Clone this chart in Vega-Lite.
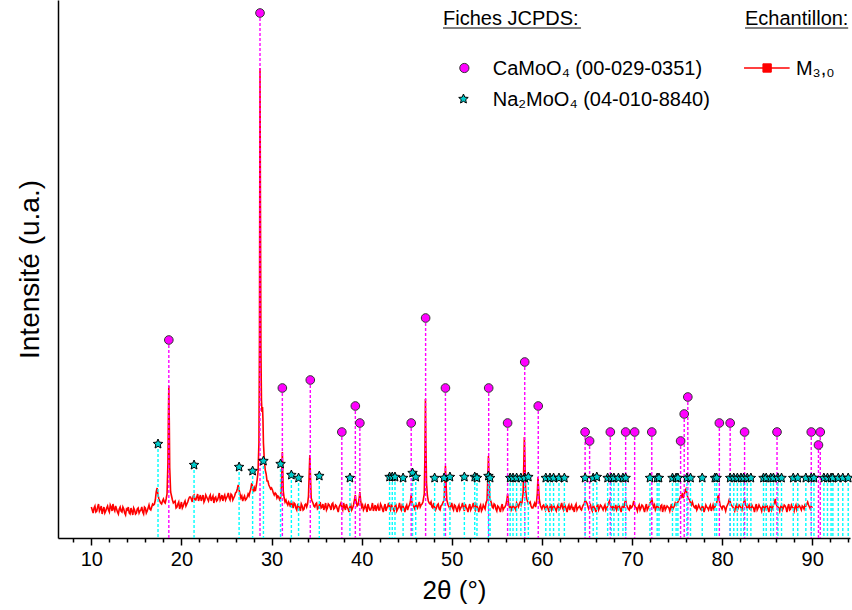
{
  "$schema": "https://vega.github.io/schema/vega-lite/v6.json",
  "autosize": "none",
  "width": 792,
  "height": 538,
  "padding": {"left": 58, "top": 0, "right": 2, "bottom": 72},
  "background": "white",
  "config": {
    "view": {"stroke": null},
    "font": "Liberation Sans",
    "axis": {"labelFont": "Liberation Sans", "titleFont": "Liberation Sans", "titleFontWeight": "normal", "labelColor": "black", "titleColor": "black", "domainColor": "black", "tickColor": "black", "grid": false}
  },
  "datasets": {
    "pattern": [
      {"t":10.0,"i":31},{"t":10.2,"i":25},{"t":10.4,"i":32},{"t":10.6,"i":27},{"t":10.8,"i":34},{"t":11.0,"i":29},{"t":11.2,"i":24},{"t":11.4,"i":31},{"t":11.6,"i":27},{"t":11.8,"i":32},
      {"t":12.0,"i":26},{"t":12.2,"i":31},{"t":12.4,"i":34},{"t":12.6,"i":27},{"t":12.8,"i":29},{"t":13.0,"i":24},{"t":13.2,"i":31},{"t":13.4,"i":26},{"t":13.6,"i":29},{"t":13.8,"i":23},
      {"t":14.0,"i":28},{"t":14.2,"i":25},{"t":14.4,"i":30},{"t":14.6,"i":23},{"t":14.8,"i":28},{"t":15.0,"i":25},{"t":15.2,"i":30},{"t":15.4,"i":27},{"t":15.6,"i":31},{"t":15.8,"i":24},
      {"t":16.0,"i":30},{"t":16.2,"i":27},{"t":16.4,"i":33},{"t":16.6,"i":28},{"t":16.8,"i":34},
      {"t":17.0,"i":34},{"t":17.1,"i":38},{"t":17.2,"i":46},{"t":17.3,"i":50},{"t":17.4,"i":43},{"t":17.6,"i":37},{"t":17.8,"i":34},{"t":18.0,"i":39},{"t":18.2,"i":35},{"t":18.4,"i":44},
      {"t":18.5,"i":75},{"t":18.55,"i":120},{"t":18.6,"i":152},{"t":18.65,"i":118},{"t":18.7,"i":70},{"t":18.8,"i":46},{"t":19.0,"i":38},
      {"t":19.2,"i":36},{"t":19.4,"i":30},{"t":19.6,"i":34},{"t":19.8,"i":29},{"t":20.0,"i":36},{"t":20.2,"i":32},{"t":20.4,"i":37},{"t":20.6,"i":34},{"t":20.8,"i":39},
      {"t":21.0,"i":41},{"t":21.2,"i":36},{"t":21.4,"i":43},{"t":21.6,"i":38},{"t":21.8,"i":44},{"t":22.0,"i":40},{"t":22.2,"i":37},{"t":22.4,"i":43},{"t":22.6,"i":38},{"t":22.8,"i":41},
      {"t":23.0,"i":37},{"t":23.2,"i":43},{"t":23.4,"i":40},{"t":23.6,"i":35},{"t":23.8,"i":41},{"t":24.0,"i":38},{"t":24.2,"i":45},{"t":24.4,"i":40},{"t":24.6,"i":37},{"t":24.8,"i":43},
      {"t":25.0,"i":40},{"t":25.2,"i":45},{"t":25.4,"i":38},{"t":25.6,"i":43},{"t":25.8,"i":40},{"t":26.0,"i":45},
      {"t":26.1,"i":46},{"t":26.2,"i":49},{"t":26.3,"i":53},{"t":26.4,"i":48},{"t":26.5,"i":44},{"t":26.6,"i":40},{"t":26.8,"i":37},{"t":27.0,"i":42},{"t":27.2,"i":39},{"t":27.4,"i":44},
      {"t":27.6,"i":46},{"t":27.7,"i":49},{"t":27.8,"i":55},{"t":27.9,"i":51},{"t":28.0,"i":46},{"t":28.1,"i":50},{"t":28.2,"i":47},{"t":28.3,"i":52},{"t":28.4,"i":58},{"t":28.5,"i":66},
      {"t":28.6,"i":95},{"t":28.66,"i":200},{"t":28.72,"i":470},{"t":28.77,"i":330},{"t":28.82,"i":190},{"t":28.88,"i":138},{"t":28.94,"i":126},{"t":29.0,"i":131},{"t":29.05,"i":118},{"t":29.1,"i":95},
      {"t":29.2,"i":78},{"t":29.3,"i":68},{"t":29.4,"i":64},{"t":29.5,"i":57},{"t":29.6,"i":57},{"t":29.8,"i":51},{"t":30.0,"i":50},{"t":30.2,"i":45},{"t":30.4,"i":45},{"t":30.6,"i":40},
      {"t":30.8,"i":41},{"t":31.0,"i":39},{"t":31.1,"i":52},{"t":31.15,"i":70},{"t":31.2,"i":86},{"t":31.25,"i":66},{"t":31.3,"i":47},{"t":31.4,"i":40},{"t":31.6,"i":38},{"t":31.8,"i":33},
      {"t":32.0,"i":34},{"t":32.2,"i":37},{"t":32.4,"i":30},{"t":32.6,"i":34},{"t":32.8,"i":28},{"t":33.0,"i":32},{"t":33.2,"i":27},{"t":33.4,"i":32},{"t":33.6,"i":29},{"t":33.8,"i":34},
      {"t":34.0,"i":34},{"t":34.1,"i":42},{"t":34.2,"i":70},{"t":34.25,"i":83},{"t":34.3,"i":68},{"t":34.4,"i":40},{"t":34.6,"i":35},{"t":34.8,"i":31},{"t":35.0,"i":35},{"t":35.2,"i":30},
      {"t":35.4,"i":36},{"t":35.6,"i":31},{"t":35.8,"i":28},{"t":36.0,"i":35},{"t":36.2,"i":30},{"t":36.4,"i":33},{"t":36.6,"i":28},{"t":36.8,"i":35},{"t":37.0,"i":30},{"t":37.2,"i":32},
      {"t":37.4,"i":26},{"t":37.6,"i":33},{"t":37.8,"i":30},{"t":38.0,"i":35},{"t":38.2,"i":28},{"t":38.4,"i":31},{"t":38.6,"i":26},{"t":38.8,"i":33},{"t":39.0,"i":30},{"t":39.1,"i":33},
      {"t":39.2,"i":38},{"t":39.3,"i":43},{"t":39.4,"i":36},{"t":39.5,"i":32},{"t":39.6,"i":33},{"t":39.7,"i":38},{"t":39.8,"i":46},{"t":39.9,"i":37},{"t":40.0,"i":31},{"t":40.2,"i":28},
      {"t":40.4,"i":33},{"t":40.6,"i":26},{"t":40.8,"i":31},{"t":41.0,"i":28},{"t":41.2,"i":35},{"t":41.4,"i":30},{"t":41.6,"i":27},{"t":41.8,"i":33},{"t":42.0,"i":28},{"t":42.2,"i":32},
      {"t":42.4,"i":26},{"t":42.6,"i":34},{"t":42.8,"i":30},{"t":43.0,"i":35},{"t":43.2,"i":28},{"t":43.4,"i":31},{"t":43.6,"i":27},{"t":43.8,"i":33},{"t":44.0,"i":29},{"t":44.2,"i":35},
      {"t":44.4,"i":28},{"t":44.6,"i":32},{"t":44.8,"i":26},{"t":45.0,"i":33},{"t":45.2,"i":31},{"t":45.4,"i":36},{"t":45.5,"i":43},{"t":45.6,"i":35},{"t":45.8,"i":31},{"t":46.0,"i":35},
      {"t":46.2,"i":30},{"t":46.4,"i":36},{"t":46.6,"i":33},{"t":46.8,"i":36},{"t":46.95,"i":44},{"t":47.02,"i":80},{"t":47.08,"i":139},{"t":47.13,"i":95},{"t":47.2,"i":55},{"t":47.3,"i":42},
      {"t":47.4,"i":37},{"t":47.6,"i":34},{"t":47.8,"i":31},{"t":48.0,"i":35},{"t":48.2,"i":28},{"t":48.4,"i":33},{"t":48.6,"i":29},{"t":48.8,"i":32},{"t":49.0,"i":35},{"t":49.15,"i":38},
      {"t":49.22,"i":52},{"t":49.3,"i":72},{"t":49.36,"i":56},{"t":49.45,"i":38},{"t":49.6,"i":33},{"t":49.8,"i":29},{"t":50.0,"i":35},{"t":50.2,"i":28},{"t":50.4,"i":32},{"t":50.6,"i":26},
      {"t":50.8,"i":33},{"t":51.0,"i":30},{"t":51.2,"i":35},{"t":51.4,"i":27},{"t":51.6,"i":31},{"t":51.8,"i":26},{"t":52.0,"i":34},{"t":52.2,"i":30},{"t":52.4,"i":35},{"t":52.6,"i":28},
      {"t":52.8,"i":32},{"t":53.0,"i":26},{"t":53.2,"i":33},{"t":53.4,"i":29},{"t":53.6,"i":31},{"t":53.8,"i":35},{"t":53.92,"i":38},{"t":54.0,"i":60},{"t":54.07,"i":82},{"t":54.13,"i":64},
      {"t":54.22,"i":40},{"t":54.4,"i":35},{"t":54.6,"i":30},{"t":54.8,"i":33},{"t":55.0,"i":27},{"t":55.2,"i":31},{"t":55.4,"i":26},{"t":55.6,"i":34},{"t":55.8,"i":30},{"t":56.0,"i":33},
      {"t":56.1,"i":37},{"t":56.2,"i":44},{"t":56.3,"i":35},{"t":56.4,"i":31},{"t":56.6,"i":28},{"t":56.8,"i":33},{"t":57.0,"i":30},{"t":57.2,"i":35},{"t":57.4,"i":31},{"t":57.6,"i":36},
      {"t":57.8,"i":36},{"t":57.92,"i":45},{"t":58.0,"i":75},{"t":58.06,"i":101},{"t":58.12,"i":80},{"t":58.2,"i":48},{"t":58.3,"i":40},{"t":58.4,"i":37},{"t":58.6,"i":35},{"t":58.8,"i":32},
      {"t":59.0,"i":30},{"t":59.2,"i":35},{"t":59.4,"i":35},{"t":59.5,"i":45},{"t":59.57,"i":61},{"t":59.64,"i":50},{"t":59.72,"i":38},{"t":59.85,"i":32},{"t":60.0,"i":29},{"t":60.2,"i":33},
      {"t":60.4,"i":28},{"t":60.6,"i":32},{"t":60.8,"i":26},{"t":61.0,"i":34},{"t":61.2,"i":30},{"t":61.4,"i":31},{"t":61.6,"i":27},{"t":61.8,"i":33},{"t":62.0,"i":29},{"t":62.2,"i":35},
      {"t":62.4,"i":28},{"t":62.6,"i":32},{"t":62.8,"i":26},{"t":63.0,"i":33},{"t":63.2,"i":31},{"t":63.4,"i":29},{"t":63.6,"i":26},{"t":63.8,"i":34},{"t":64.0,"i":30},{"t":64.2,"i":32},
      {"t":64.4,"i":28},{"t":64.6,"i":33},{"t":64.8,"i":38},{"t":65.0,"i":35},{"t":65.2,"i":29},{"t":65.4,"i":33},{"t":65.6,"i":27},{"t":65.8,"i":31},{"t":66.0,"i":26},{"t":66.2,"i":34},
      {"t":66.4,"i":30},{"t":66.6,"i":32},{"t":66.8,"i":28},{"t":67.0,"i":33},{"t":67.2,"i":30},{"t":67.4,"i":35},{"t":67.5,"i":37},{"t":67.6,"i":33},{"t":67.8,"i":29},{"t":68.0,"i":27},
      {"t":68.2,"i":33},{"t":68.4,"i":30},{"t":68.6,"i":32},{"t":68.8,"i":26},{"t":69.0,"i":33},{"t":69.2,"i":35},{"t":69.3,"i":38},{"t":69.4,"i":33},{"t":69.6,"i":29},{"t":69.8,"i":33},
      {"t":70.0,"i":31},{"t":70.2,"i":37},{"t":70.35,"i":31},{"t":70.6,"i":27},{"t":70.8,"i":33},{"t":71.0,"i":30},{"t":71.2,"i":32},{"t":71.4,"i":26},{"t":71.6,"i":34},{"t":71.8,"i":30},
      {"t":72.0,"i":35},{"t":72.1,"i":36},{"t":72.2,"i":40},{"t":72.3,"i":34},{"t":72.4,"i":31},{"t":72.6,"i":28},{"t":72.8,"i":33},{"t":73.0,"i":29},{"t":73.2,"i":32},{"t":73.4,"i":26},
      {"t":73.6,"i":33},{"t":73.8,"i":30},{"t":74.0,"i":31},{"t":74.2,"i":27},{"t":74.4,"i":34},{"t":74.6,"i":30},{"t":74.8,"i":35},{"t":75.0,"i":35},{"t":75.2,"i":38},{"t":75.4,"i":42},
      {"t":75.6,"i":45},{"t":75.7,"i":40},{"t":75.8,"i":43},{"t":75.9,"i":47},{"t":76.0,"i":49},{"t":76.1,"i":45},{"t":76.2,"i":40},{"t":76.4,"i":38},{"t":76.6,"i":33},{"t":76.8,"i":33},
      {"t":77.0,"i":30},{"t":77.2,"i":28},{"t":77.4,"i":33},{"t":77.6,"i":29},{"t":77.8,"i":32},{"t":78.0,"i":26},{"t":78.2,"i":33},{"t":78.4,"i":30},{"t":78.6,"i":31},{"t":78.8,"i":27},
      {"t":79.0,"i":33},{"t":79.2,"i":31},{"t":79.4,"i":35},{"t":79.5,"i":40},{"t":79.6,"i":43},{"t":79.7,"i":37},{"t":79.8,"i":32},{"t":80.0,"i":29},{"t":80.2,"i":32},{"t":80.4,"i":27},
      {"t":80.6,"i":33},{"t":80.75,"i":37},{"t":80.85,"i":40},{"t":80.95,"i":34},{"t":81.2,"i":31},{"t":81.4,"i":27},{"t":81.6,"i":33},{"t":81.8,"i":30},{"t":82.0,"i":32},{"t":82.2,"i":28},
      {"t":82.4,"i":35},{"t":82.5,"i":39},{"t":82.6,"i":33},{"t":82.8,"i":29},{"t":83.0,"i":33},{"t":83.2,"i":28},{"t":83.4,"i":31},{"t":83.6,"i":26},{"t":83.8,"i":34},{"t":84.0,"i":30},
      {"t":84.2,"i":31},{"t":84.4,"i":27},{"t":84.6,"i":33},{"t":84.8,"i":30},{"t":85.0,"i":32},{"t":85.2,"i":26},{"t":85.4,"i":33},{"t":85.6,"i":30},{"t":85.8,"i":35},{"t":85.9,"i":39},
      {"t":86.0,"i":34},{"t":86.2,"i":31},{"t":86.4,"i":27},{"t":86.6,"i":33},{"t":86.8,"i":30},{"t":87.0,"i":32},{"t":87.2,"i":26},{"t":87.4,"i":34},{"t":87.6,"i":29},{"t":87.8,"i":31},
      {"t":88.0,"i":27},{"t":88.2,"i":33},{"t":88.4,"i":30},{"t":88.6,"i":32},{"t":88.8,"i":28},{"t":89.0,"i":31},{"t":89.2,"i":33},{"t":89.4,"i":34},{"t":89.5,"i":36},{"t":89.6,"i":33},
      {"t":89.8,"i":29},{"t":90.0,"i":30},
      {"t":10.1,"i":28},{"t":10.3,"i":30},{"t":10.5,"i":26},{"t":10.7,"i":31},{"t":10.9,"i":27},{"t":11.1,"i":32},{"t":11.3,"i":28},{"t":11.5,"i":25},{"t":11.7,"i":30},{"t":11.9,"i":28},
      {"t":12.1,"i":33},{"t":12.3,"i":27},{"t":12.5,"i":29},{"t":12.7,"i":32},{"t":12.9,"i":26},{"t":13.1,"i":29},{"t":13.3,"i":27},{"t":13.5,"i":31},{"t":13.7,"i":25},{"t":13.9,"i":29},
      {"t":14.1,"i":31},{"t":14.3,"i":24},{"t":14.5,"i":27},{"t":14.7,"i":30},{"t":14.9,"i":24},{"t":15.1,"i":29},{"t":15.3,"i":25},{"t":15.5,"i":28},{"t":15.7,"i":26},{"t":15.9,"i":31},
      {"t":16.1,"i":25},{"t":16.3,"i":30},{"t":16.5,"i":29},{"t":16.7,"i":31},{"t":16.9,"i":33},
      {"t":17.5,"i":39},{"t":17.7,"i":35},{"t":17.9,"i":37},{"t":18.1,"i":36},{"t":18.3,"i":39},
      {"t":19.1,"i":35},{"t":19.3,"i":37},{"t":19.5,"i":31},{"t":19.7,"i":36},{"t":19.9,"i":32},{"t":20.1,"i":30},{"t":20.3,"i":35},{"t":20.5,"i":32},{"t":20.7,"i":36},{"t":20.9,"i":41},
      {"t":21.1,"i":39},{"t":21.3,"i":42},{"t":21.5,"i":38},{"t":21.7,"i":41},{"t":21.9,"i":37},{"t":22.1,"i":43},{"t":22.3,"i":40},{"t":22.5,"i":36},{"t":22.7,"i":43},{"t":22.9,"i":39},
      {"t":23.1,"i":41},{"t":23.3,"i":37},{"t":23.5,"i":42},{"t":23.7,"i":40},{"t":23.9,"i":37},{"t":24.1,"i":41},{"t":24.3,"i":38},{"t":24.5,"i":43},{"t":24.7,"i":41},{"t":24.9,"i":38},
      {"t":25.1,"i":42},{"t":25.3,"i":40},{"t":25.5,"i":44},{"t":25.7,"i":38},{"t":25.9,"i":42},
      {"t":26.7,"i":42},{"t":26.9,"i":40},{"t":27.1,"i":38},{"t":27.3,"i":41},{"t":27.5,"i":42},
      {"t":29.7,"i":53},{"t":29.9,"i":49},{"t":30.1,"i":48},{"t":30.3,"i":43},{"t":30.5,"i":44},{"t":30.7,"i":42},{"t":30.9,"i":38},
      {"t":31.5,"i":36},{"t":31.7,"i":35},{"t":31.9,"i":36},
      {"t":32.1,"i":31},{"t":32.3,"i":33},{"t":32.5,"i":35},{"t":32.7,"i":30},{"t":32.9,"i":33},{"t":33.1,"i":30},{"t":33.3,"i":34},{"t":33.5,"i":28},{"t":33.7,"i":33},{"t":33.9,"i":31},
      {"t":34.5,"i":37},{"t":34.7,"i":32},{"t":34.9,"i":34},{"t":35.1,"i":29},{"t":35.3,"i":33},{"t":35.5,"i":30},{"t":35.7,"i":34},{"t":35.9,"i":31},{"t":36.1,"i":28},{"t":36.3,"i":34},
      {"t":36.5,"i":31},{"t":36.7,"i":34},{"t":36.9,"i":29},{"t":37.1,"i":33},{"t":37.3,"i":29},{"t":37.5,"i":31},{"t":37.7,"i":35},{"t":37.9,"i":28},{"t":38.1,"i":31},{"t":38.3,"i":34},
      {"t":38.5,"i":29},{"t":38.7,"i":31},{"t":38.9,"i":28},
      {"t":40.1,"i":33},{"t":40.3,"i":30},{"t":40.5,"i":30},{"t":40.7,"i":34},{"t":40.9,"i":28},{"t":41.1,"i":31},{"t":41.3,"i":27},{"t":41.5,"i":33},{"t":41.7,"i":31},{"t":41.9,"i":28},
      {"t":42.1,"i":34},{"t":42.3,"i":29},{"t":42.5,"i":31},{"t":42.7,"i":27},{"t":42.9,"i":32},{"t":43.1,"i":30},{"t":43.3,"i":34},{"t":43.5,"i":29},{"t":43.7,"i":32},{"t":43.9,"i":27},
      {"t":44.1,"i":31},{"t":44.3,"i":30},{"t":44.5,"i":33},{"t":44.7,"i":29},{"t":44.9,"i":31},{"t":45.1,"i":28},{"t":45.3,"i":33},
      {"t":45.7,"i":33},{"t":45.9,"i":29},{"t":46.1,"i":32},{"t":46.3,"i":33},{"t":46.5,"i":31},{"t":46.7,"i":34},
      {"t":47.5,"i":35},{"t":47.7,"i":36},{"t":47.9,"i":30},{"t":48.1,"i":31},{"t":48.3,"i":30},{"t":48.5,"i":34},{"t":48.7,"i":28},{"t":48.9,"i":33},
      {"t":49.7,"i":31},{"t":49.9,"i":32},{"t":50.1,"i":30},{"t":50.3,"i":33},{"t":50.5,"i":29},{"t":50.7,"i":31},{"t":50.9,"i":28},{"t":51.1,"i":32},{"t":51.3,"i":30},{"t":51.5,"i":34},
      {"t":51.7,"i":29},{"t":51.9,"i":31},{"t":52.1,"i":28},{"t":52.3,"i":32},{"t":52.5,"i":30},{"t":52.7,"i":34},{"t":52.9,"i":29},{"t":53.1,"i":31},{"t":53.3,"i":27},{"t":53.5,"i":33},
      {"t":53.7,"i":29},
      {"t":54.5,"i":31},{"t":54.7,"i":34},{"t":54.9,"i":29},{"t":55.1,"i":32},{"t":55.3,"i":29},{"t":55.5,"i":31},{"t":55.7,"i":28},{"t":55.9,"i":31},
      {"t":56.5,"i":33},{"t":56.7,"i":30},{"t":56.9,"i":31},{"t":57.1,"i":28},{"t":57.3,"i":33},{"t":57.5,"i":34},{"t":57.7,"i":33},
      {"t":58.5,"i":34},{"t":58.7,"i":36},{"t":58.9,"i":30},{"t":59.1,"i":33},{"t":59.3,"i":31},
      {"t":60.1,"i":32},{"t":60.3,"i":30},{"t":60.5,"i":33},{"t":60.7,"i":29},{"t":60.9,"i":31},{"t":61.1,"i":28},{"t":61.3,"i":33},{"t":61.5,"i":29},{"t":61.7,"i":31},{"t":61.9,"i":28},
      {"t":62.1,"i":32},{"t":62.3,"i":30},{"t":62.5,"i":34},{"t":62.7,"i":29},{"t":62.9,"i":31},{"t":63.1,"i":28},{"t":63.3,"i":33},{"t":63.5,"i":30},{"t":63.7,"i":32},{"t":63.9,"i":28},
      {"t":64.1,"i":31},{"t":64.3,"i":29},{"t":64.5,"i":31},{"t":64.7,"i":34},
      {"t":65.1,"i":32},{"t":65.3,"i":31},{"t":65.5,"i":29},{"t":65.7,"i":33},{"t":65.9,"i":29},{"t":66.1,"i":31},{"t":66.3,"i":28},{"t":66.5,"i":33},{"t":66.7,"i":30},{"t":66.9,"i":31},
      {"t":67.1,"i":28},{"t":67.3,"i":32},
      {"t":67.7,"i":31},{"t":67.9,"i":32},{"t":68.1,"i":30},{"t":68.3,"i":28},{"t":68.5,"i":33},{"t":68.7,"i":29},{"t":68.9,"i":31},{"t":69.1,"i":30},
      {"t":69.5,"i":31},{"t":69.7,"i":28},{"t":69.9,"i":30},{"t":70.1,"i":33},{"t":70.5,"i":30},{"t":70.7,"i":31},{"t":70.9,"i":28},{"t":71.1,"i":33},{"t":71.3,"i":29},{"t":71.5,"i":31},
      {"t":71.7,"i":28},{"t":71.9,"i":32},
      {"t":72.5,"i":33},{"t":72.7,"i":30},{"t":72.9,"i":31},{"t":73.1,"i":28},{"t":73.3,"i":33},{"t":73.5,"i":30},{"t":73.7,"i":28},{"t":73.9,"i":32},{"t":74.1,"i":30},{"t":74.3,"i":31},
      {"t":74.5,"i":28},{"t":74.7,"i":32},{"t":74.9,"i":33},{"t":75.1,"i":36},{"t":75.3,"i":39},{"t":75.5,"i":41},
      {"t":76.3,"i":39},{"t":76.5,"i":35},{"t":76.7,"i":36},{"t":76.9,"i":31},{"t":77.1,"i":33},{"t":77.3,"i":30},{"t":77.5,"i":31},{"t":77.7,"i":28},{"t":77.9,"i":31},{"t":78.1,"i":29},
      {"t":78.3,"i":31},{"t":78.5,"i":28},{"t":78.7,"i":33},{"t":78.9,"i":30},{"t":79.1,"i":29},{"t":79.3,"i":33},
      {"t":79.9,"i":31},{"t":80.1,"i":32},{"t":80.3,"i":30},{"t":80.5,"i":31},{"t":80.7,"i":35},
      {"t":81.1,"i":32},{"t":81.3,"i":29},{"t":81.5,"i":31},{"t":81.7,"i":28},{"t":81.9,"i":33},{"t":82.1,"i":30},{"t":82.3,"i":32},
      {"t":82.7,"i":32},{"t":82.9,"i":31},{"t":83.1,"i":29},{"t":83.3,"i":33},{"t":83.5,"i":30},{"t":83.7,"i":31},{"t":83.9,"i":28},{"t":84.1,"i":33},{"t":84.3,"i":30},{"t":84.5,"i":31},
      {"t":84.7,"i":28},{"t":84.9,"i":33},{"t":85.1,"i":29},{"t":85.3,"i":31},{"t":85.5,"i":28},{"t":85.7,"i":33},
      {"t":86.1,"i":32},{"t":86.3,"i":30},{"t":86.5,"i":31},{"t":86.7,"i":28},{"t":86.9,"i":33},{"t":87.1,"i":30},{"t":87.3,"i":31},{"t":87.5,"i":28},{"t":87.7,"i":33},{"t":87.9,"i":30},
      {"t":88.1,"i":31},{"t":88.3,"i":28},{"t":88.5,"i":33},{"t":88.7,"i":30},{"t":88.9,"i":32},{"t":89.1,"i":29},{"t":89.3,"i":32},
      {"t":89.7,"i":31},{"t":89.9,"i":32}
    ],
    "camoo4": [
      {"t":18.6,"h":198},{"t":28.72,"h":525},{"t":31.2,"h":150},{"t":34.3,"h":158},{"t":37.8,"h":106},{"t":39.3,"h":132},{"t":39.8,"h":115},{"t":45.5,"h":115},{"t":47.1,"h":220},{"t":49.3,"h":150},
      {"t":54.1,"h":150},{"t":56.2,"h":115},{"t":58.1,"h":176},{"t":59.6,"h":132},{"t":64.8,"h":106},{"t":65.3,"h":97},{"t":67.6,"h":106},{"t":69.3,"h":106},{"t":70.3,"h":106},{"t":72.2,"h":106},
      {"t":75.4,"h":97},{"t":75.8,"h":124},{"t":76.2,"h":141},{"t":79.7,"h":115},{"t":80.9,"h":115},{"t":82.5,"h":106},{"t":86.1,"h":106},{"t":89.9,"h":106},{"t":90.7,"h":93},{"t":90.9,"h":106}
    ],
    "na2moo4": [
      {"t":17.4,"h":94},{"t":21.4,"h":73},{"t":26.4,"h":71},{"t":27.9,"h":67},{"t":29.1,"h":77},{"t":31.0,"h":74},{"t":32.2,"h":63},{"t":33.0,"h":60},{"t":35.3,"h":62},{"t":38.7,"h":60},
      {"t":43.1,"h":61},{"t":43.4,"h":61},{"t":43.7,"h":61},{"t":44.6,"h":60},{"t":45.65,"h":65},{"t":46.0,"h":61},{"t":48.1,"h":60},{"t":49.15,"h":60},{"t":49.8,"h":61},{"t":51.4,"h":61},
      {"t":52.55,"h":61},{"t":52.8,"h":60},{"t":54.07,"h":62},{"t":54.26,"h":60},{"t":56.48,"h":60},{"t":56.8,"h":60},{"t":57.2,"h":60},{"t":57.67,"h":60},{"t":58.1,"h":60},{"t":58.5,"h":61},
      {"t":60.44,"h":60},{"t":60.9,"h":60},{"t":61.3,"h":60},{"t":61.9,"h":60},{"t":62.5,"h":60},{"t":64.8,"h":60},{"t":65.7,"h":60},{"t":66.1,"h":61},{"t":67.3,"h":60},{"t":67.7,"h":60},
      {"t":68.0,"h":60},{"t":68.5,"h":60},{"t":69.0,"h":60},{"t":69.3,"h":60},{"t":72.0,"h":60},{"t":72.8,"h":60},{"t":73.0,"h":60},{"t":74.5,"h":60},{"t":74.9,"h":60},{"t":75.1,"h":60},
      {"t":76.1,"h":60},{"t":76.5,"h":60},{"t":77.8,"h":60},{"t":79.2,"h":60},{"t":79.4,"h":60},{"t":80.9,"h":60},{"t":81.3,"h":60},{"t":81.7,"h":60},{"t":82.1,"h":60},{"t":82.4,"h":60},
      {"t":82.8,"h":60},{"t":83.2,"h":60},{"t":84.6,"h":60},{"t":84.9,"h":60},{"t":85.4,"h":60},{"t":85.7,"h":60},{"t":86.2,"h":60},{"t":86.6,"h":60},{"t":87.9,"h":60},{"t":88.4,"h":60},
      {"t":89.3,"h":60},{"t":89.9,"h":60},{"t":90.2,"h":60},{"t":91.3,"h":60},{"t":91.7,"h":60},{"t":92.1,"h":60},{"t":92.3,"h":60},{"t":92.9,"h":60},{"t":93.4,"h":60},{"t":94.0,"h":60}
    ]
  },
  "resolve": {"axis": {"x": "independent", "y": "independent"}},
  "layer": [
    {
      "data": {"name": "pattern"},
      "mark": {"type": "line", "color": "#FF0000", "strokeWidth": 1.6, "interpolate": "linear"},
      "encoding": {
        "x": {"field": "t", "type": "quantitative", "scale": {"domain": [6.3, 94.2], "nice": false, "zero": false},
          "axis": {"orient": "bottom", "values": [10, 20, 30, 40, 50, 60, 70, 80, 90], "tickSize": 7, "tickWidth": 1.5, "domainWidth": 1.5, "labelFontSize": 20, "labelPadding": 4, "title": "2θ (°)", "titleFontSize": 26, "titlePadding": 8}},
        "y": {"field": "i", "type": "quantitative", "scale": {"domain": [0, 538], "nice": false, "zero": false},
          "axis": {"orient": "left", "ticks": false, "labels": false, "domainWidth": 1.5, "title": "Intensité (u.a.)", "titleFontSize": 28, "titlePadding": 14}}
      }
    },
    {
      "data": {"name": "camoo4"},
      "mark": {"type": "rule", "color": "#FF00FF", "strokeWidth": 1.4, "strokeDash": [3, 2]},
      "encoding": {
        "x": {"field": "t", "type": "quantitative", "scale": {"domain": [6.3, 94.2], "nice": false, "zero": false},
          "axis": {"orient": "bottom", "values": [8, 12, 14, 16, 18, 22, 24, 26, 28, 32, 34, 36, 38, 42, 44, 46, 48, 52, 54, 56, 58, 62, 64, 66, 68, 72, 74, 76, 78, 82, 84, 86, 88, 92, 94], "tickSize": 4, "tickWidth": 1.5, "domain": false, "labels": false, "title": null}},
        "y": {"field": "h", "type": "quantitative", "axis": null},
        "y2": {"datum": 0}
      }
    },
    {
      "data": {"name": "na2moo4"},
      "mark": {"type": "rule", "color": "#00FFFF", "strokeWidth": 1.4, "strokeDash": [3, 2]},
      "encoding": {
        "x": {"field": "t", "type": "quantitative", "axis": null},
        "y": {"field": "h", "type": "quantitative", "axis": null},
        "y2": {"datum": 0}
      }
    },
    {
      "data": {"name": "camoo4"},
      "mark": {"type": "point", "shape": "circle", "filled": true, "size": 75, "fill": "#FF00FF", "stroke": "#333333", "strokeWidth": 1, "opacity": 1},
      "encoding": {
        "x": {"field": "t", "type": "quantitative", "axis": null},
        "y": {"field": "h", "type": "quantitative", "axis": null}
      }
    },
    {
      "data": {"name": "na2moo4"},
      "mark": {"type": "point", "shape": "M0,-1L0.27,-0.37L0.951,-0.309L0.44,0.14L0.588,0.809L0,0.46L-0.588,0.809L-0.44,0.14L-0.951,-0.309L-0.27,-0.37Z", "filled": true, "size": 100, "fill": "#00CCCC", "stroke": "#000000", "strokeWidth": 1, "opacity": 1},
      "encoding": {
        "x": {"field": "t", "type": "quantitative", "axis": null},
        "y": {"field": "h", "type": "quantitative", "axis": null}
      }
    },
    {
      "data": {"values": [{}]},
      "mark": {"type": "text", "text": "Fiches JCPDS:", "align": "left", "baseline": "middle", "fontSize": 20, "font": "Liberation Sans", "color": "black"},
      "encoding": {"x": {"datum": 49.03, "axis": null}, "y": {"datum": 519, "axis": null}}
    },
    {
      "data": {"values": [{}]},
      "mark": {"type": "rule", "color": "black", "strokeWidth": 1},
      "encoding": {"x": {"datum": 49.03, "axis": null}, "x2": {"datum": 64.35}, "y": {"datum": 510, "axis": null}}
    },
    {
      "data": {"values": [{}]},
      "mark": {"type": "text", "text": "Echantillon:", "align": "left", "baseline": "middle", "fontSize": 20, "font": "Liberation Sans", "color": "black"},
      "encoding": {"x": {"datum": 82.55, "axis": null}, "y": {"datum": 519, "axis": null}}
    },
    {
      "data": {"values": [{}]},
      "mark": {"type": "rule", "color": "black", "strokeWidth": 1},
      "encoding": {"x": {"datum": 82.55, "axis": null}, "x2": {"datum": 94.0}, "y": {"datum": 510, "axis": null}}
    },
    {
      "data": {"values": [{}]},
      "mark": {"type": "point", "shape": "circle", "filled": true, "size": 85, "fill": "#FF00FF", "stroke": "#333333", "strokeWidth": 1, "opacity": 1},
      "encoding": {"x": {"datum": 51.4, "axis": null}, "y": {"datum": 470, "axis": null}}
    },
    {
      "data": {"values": [{}]},
      "mark": {"type": "text", "text": "CaMoO₄ (00-029-0351)", "align": "left", "baseline": "middle", "fontSize": 20, "font": "Liberation Sans", "color": "black"},
      "encoding": {"x": {"datum": 54.55, "axis": null}, "y": {"datum": 469, "axis": null}}
    },
    {
      "data": {"values": [{}]},
      "mark": {"type": "point", "shape": "M0,-1L0.27,-0.37L0.951,-0.309L0.44,0.14L0.588,0.809L0,0.46L-0.588,0.809L-0.44,0.14L-0.951,-0.309L-0.27,-0.37Z", "filled": true, "size": 100, "fill": "#00CCCC", "stroke": "#000000", "strokeWidth": 1, "opacity": 1},
      "encoding": {"x": {"datum": 51.3, "axis": null}, "y": {"datum": 439, "axis": null}}
    },
    {
      "data": {"values": [{}]},
      "mark": {"type": "text", "text": "Na₂MoO₄ (04-010-8840)", "align": "left", "baseline": "middle", "fontSize": 20, "font": "Liberation Sans", "color": "black"},
      "encoding": {"x": {"datum": 54.55, "axis": null}, "y": {"datum": 438, "axis": null}}
    },
    {
      "data": {"values": [{}]},
      "mark": {"type": "rule", "color": "#FF0000", "strokeWidth": 1.4},
      "encoding": {"x": {"datum": 82.44, "axis": null}, "x2": {"datum": 87.5}, "y": {"datum": 470, "axis": null}}
    },
    {
      "data": {"values": [{}]},
      "mark": {"type": "point", "shape": "square", "filled": true, "size": 70, "fill": "#FF0000", "stroke": "#FF0000", "strokeWidth": 1, "opacity": 1},
      "encoding": {"x": {"datum": 85.0, "axis": null}, "y": {"datum": 470, "axis": null}}
    },
    {
      "data": {"values": [{}]},
      "mark": {"type": "text", "text": "M₃,₀", "align": "left", "baseline": "middle", "fontSize": 20, "font": "Liberation Sans", "color": "black"},
      "encoding": {"x": {"datum": 88.2, "axis": null}, "y": {"datum": 469, "axis": null}}
    }
  ]
}
